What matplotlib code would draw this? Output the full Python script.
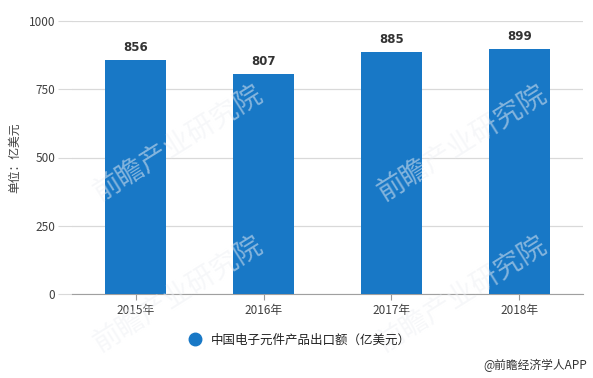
import matplotlib
matplotlib.use('Agg')
import matplotlib.pyplot as plt
from matplotlib.lines import Line2D

plt.rcParams['font.family'] = ['Noto Sans CJK SC', 'DejaVu Sans']

years = ['2015年', '2016年', '2017年', '2018年']
values = [856, 807, 885, 899]
yticks = [0, 250, 500, 750, 1000]

bar_color = '#1878c6'
grid_color = '#d9d9d9'
text_color = '#404040'

fig = plt.figure(figsize=(5.93, 3.78), dpi=100)
W, H = 593, 378
ax = fig.add_axes([72 / W, 1 - 294 / H, (583 - 72) / W, (294 - 21) / H])

x = list(range(len(years)))
bars = ax.bar(x, values, width=0.477, color=bar_color, zorder=3)
for xi, v in zip(x, values):
    ax.text(xi, v + 22, str(v), ha='center', va='bottom', fontsize=8.5,
            fontweight='bold', color='#333333', family='DejaVu Sans')

ax.set_xlim(-0.5, 3.5)
ax.set_ylim(0, 1000)
ax.set_yticks(yticks)
ax.set_xticks(x)
ax.set_xticklabels(years, fontsize=8.5, color=text_color)
ax.set_yticklabels([str(t) for t in yticks], fontsize=8.5, color=text_color)

ax.grid(axis='y', color=grid_color, linewidth=0.9, zorder=0)
ax.tick_params(axis='y', length=10, color=grid_color, pad=2)
ax.tick_params(axis='x', length=4, color='#999999', pad=3)
for s in ['top', 'right', 'left']:
    ax.spines[s].set_visible(False)
ax.spines['bottom'].set_color('#a0a0a0')

fig.text(15 / W, 1 - 158 / H, '单位：亿美元', rotation=90, ha='center', va='center',
         fontsize=8.5, color=text_color)

# watermarks (very faint)
for wx, wy in [(0.3, 0.62), (0.3, 0.22), (0.78, 0.62), (0.78, 0.22)]:
    fig.text(wx, wy, '前瞻产业研究院', rotation=32, fontsize=20, color='#eef0f4',
             alpha=0.5, ha='center', va='center', zorder=0)

handle = Line2D([], [], marker='o', linestyle='none', markersize=9,
                markerfacecolor=bar_color, markeredgecolor=bar_color)
fig.legend([handle], ['中国电子元件产品出口额（亿美元）'], loc='center',
           bbox_to_anchor=(0.5, 1 - 340 / H), frameon=False,
           prop={'size': 9, 'weight': 'medium'},
           handletextpad=0.3, labelcolor='#222222')

fig.text(587 / W, 1 - 365 / H, '@前瞻经济学人APP', ha='right', va='center',
         fontsize=8.5, color='#333333')

fig.savefig('out.png', dpi=100)
